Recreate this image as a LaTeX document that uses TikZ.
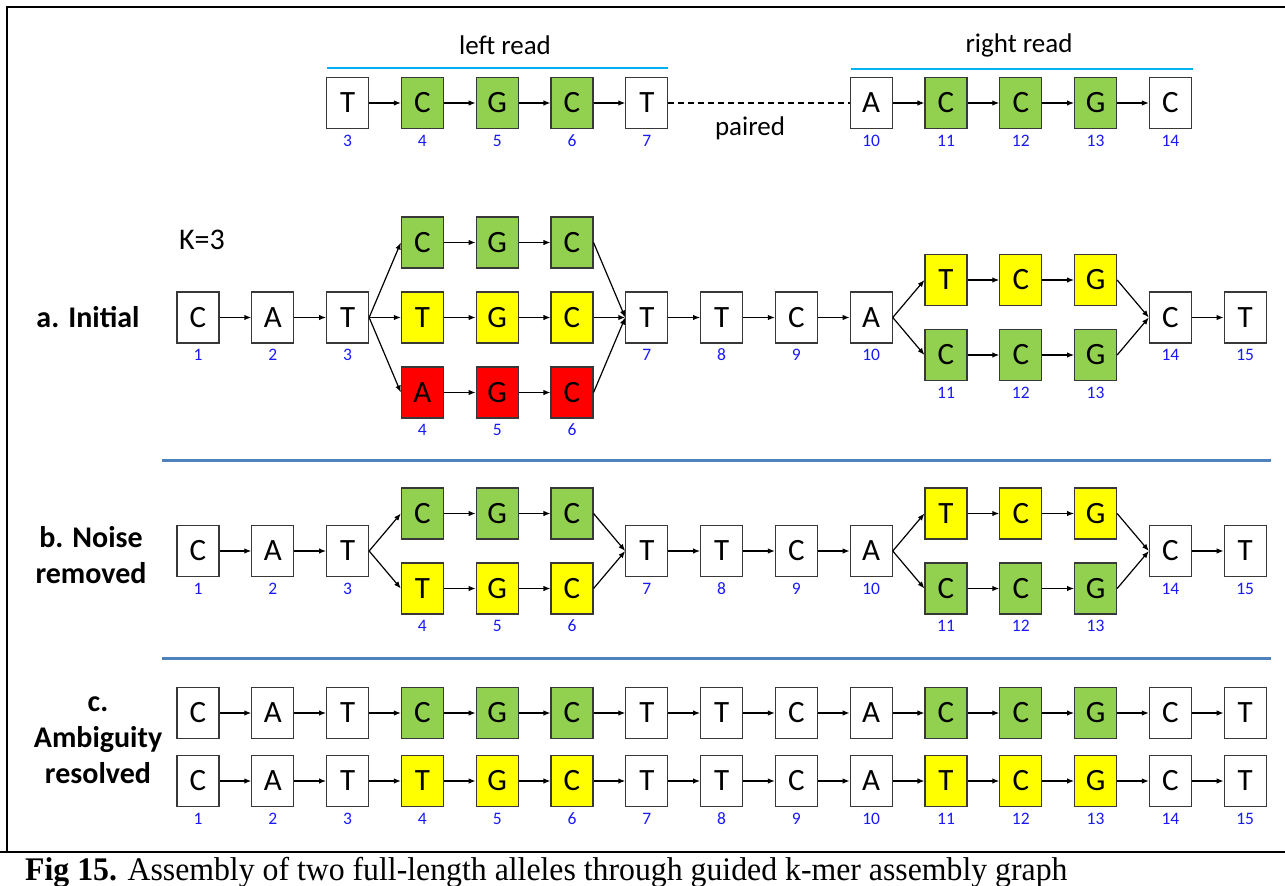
\documentclass[tikz,border=0pt]{standalone}
\usepackage{fontspec}
\setmainfont{Carlito}
\newfontfamily\capfont{Liberation Serif}
\usetikzlibrary{arrows.meta}

\definecolor{kgreen}{HTML}{92D050}
\definecolor{kyellow}{HTML}{FFFF00}
\definecolor{kred}{HTML}{FF0000}
\definecolor{sepblue}{HTML}{4F81BD}
\definecolor{readblue}{HTML}{00B0F0}
\definecolor{numblue}{RGB}{25,25,250}

\tikzset{
  kbox/.style={draw=black!78, line width=1.1pt, minimum width=42pt, minimum height=51pt,
    inner sep=0pt, fill=white, font=\fontsize{31}{32}\selectfont},
  wk/.style={kbox},
  gk/.style={kbox, fill=kgreen},
  yk/.style={kbox, fill=kyellow},
  rk/.style={kbox, fill=kred},
  num/.style={text=numblue, inner sep=0pt, font=\fontsize{17.5}{18}\selectfont},
  link/.style={line width=1.2pt, -{Latex[length=7pt,width=5.5pt]}},
  plain/.style={inner sep=0pt, font=\fontsize{27}{28}\selectfont},
  side/.style={inner sep=0pt, align=center, font=\bfseries\fontsize{30}{36}\selectfont},
  readline/.style={color=readblue, line width=2pt},
  sepline/.style={color=sepblue, line width=3pt},
}

% a row of k-mer boxes: name prefix, y position, list of index/letter/style
\newcommand\kmers[3]{%
  \foreach \k/\lt/\st in {#3}
    \node[\st] (#1\k) at ({198+(\k-1)*74.8},#2) {\lt};}
% position numbers under the boxes of a row
\newcommand\posnums[2]{%
  \foreach \k in {#2}
    \node[num] (#1\k-n) at ([yshift=-37.5pt]#1\k.center) {\k};}
% arrows between named boxes
\newcommand\links[1]{%
  \foreach \a/\b in {#1}
    \draw[link] (\a.east) -- (\b.west);}

\begin{document}
\begin{tikzpicture}[x=1pt,y=-1pt]
\useasboundingbox (0,0) rectangle (1285,886);
\clip (0,0) rectangle (1285,886);

% frame and caption rule
\draw[line width=2.6pt] (7,852) -- (7,7) -- (1285,7);
\draw[line width=1.1pt] (0,852) -- (1285,852);
\draw[line width=2.2pt] (0,852) -- (24,852);
\draw[line width=2.2pt] (1272,852) -- (1285,852);

% ---------- paired reads ----------
\kmers{R}{103}{3/T/wk,4/C/gk,5/G/gk,6/C/gk,7/T/wk,10/A/wk,11/C/gk,12/C/gk,13/G/gk,14/C/wk}
\posnums{R}{3,4,5,6,7,10,11,12,13,14}
\links{R3/R4,R4/R5,R5/R6,R6/R7,R10/R11,R11/R12,R12/R13,R13/R14}
\draw[line width=1.2pt, dash pattern=on 6pt off 4pt] (R7.east) -- (R10.west);
\node[plain] (paired) at (750,128) {paired};
\coordinate (lr1) at (327,68);
\coordinate (lr2) at (668,68);
\coordinate (rr1) at (851,69);
\coordinate (rr2) at (1193,69);
\draw[readline] (lr1) -- (lr2);
\draw[readline] (rr1) -- (rr2);
\node[plain] (leftread) at (505,45) {left read};
\node[plain] (rightread) at (1019,45) {right read};

% ---------- a. initial graph ----------
\node[plain, font=\fontsize{30}{30}\selectfont] (kval) at (202,240) {K=3};
\node[side] (labA) at (88,317) {a. Initial};
\kmers{A}{317.5}{1/C/wk,2/A/wk,3/T/wk,7/T/wk,8/T/wk,9/C/wk,10/A/wk,14/C/wk,15/T/wk}
\kmers{At}{242.5}{4/C/gk,5/G/gk,6/C/gk}
\kmers{Am}{317.5}{4/T/yk,5/G/yk,6/C/yk}
\kmers{Ab}{392.5}{4/A/rk,5/G/rk,6/C/rk}
\kmers{At}{280}{11/T/yk,12/C/yk,13/G/yk}
\kmers{Ab}{355}{11/C/gk,12/C/gk,13/G/gk}
\posnums{A}{1,2,3,7,8,9,10,14,15}
\posnums{Ab}{4,5,6,11,12,13}
\links{A1/A2,A2/A3,A3/At4,A3/Am4,A3/Ab4,At4/At5,At5/At6,Am4/Am5,Am5/Am6,Ab4/Ab5,Ab5/Ab6,
  At6/A7,Am6/A7,Ab6/A7,A7/A8,A8/A9,A9/A10,A10/At11,A10/Ab11,At11/At12,At12/At13,
  Ab11/Ab12,Ab12/Ab13,At13/A14,Ab13/A14,A14/A15}

\coordinate (s1a) at (162,460);
\coordinate (s1b) at (1271,460);
\draw[sepline] (s1a) -- (s1b);

% ---------- b. noise removed ----------
\node[side] (labB) at (91,555) {b. Noise\\removed};
\kmers{B}{551}{1/C/wk,2/A/wk,3/T/wk,7/T/wk,8/T/wk,9/C/wk,10/A/wk,14/C/wk,15/T/wk}
\kmers{Bt}{513.5}{4/C/gk,5/G/gk,6/C/gk,11/T/yk,12/C/yk,13/G/yk}
\kmers{Bb}{588.5}{4/T/yk,5/G/yk,6/C/yk,11/C/gk,12/C/gk,13/G/gk}
\posnums{B}{1,2,3,7,8,9,10,14,15}
\posnums{Bb}{4,5,6,11,12,13}
\links{B1/B2,B2/B3,B3/Bt4,B3/Bb4,Bt4/Bt5,Bt5/Bt6,Bb4/Bb5,Bb5/Bb6,Bt6/B7,Bb6/B7,
  B7/B8,B8/B9,B9/B10,B10/Bt11,B10/Bb11,Bt11/Bt12,Bt12/Bt13,Bb11/Bb12,Bb12/Bb13,
  Bt13/B14,Bb13/B14,B14/B15}

\coordinate (s2a) at (162,658.5);
\coordinate (s2b) at (1271,658.5);
\draw[sepline] (s2a) -- (s2b);

% ---------- c. ambiguity resolved ----------
\node[side] (labC) at (98,740) {c.\\Ambiguity\\resolved};
\kmers{Ct}{713}{1/C/wk,2/A/wk,3/T/wk,4/C/gk,5/G/gk,6/C/gk,7/T/wk,8/T/wk,9/C/wk,10/A/wk,
  11/C/gk,12/C/gk,13/G/gk,14/C/wk,15/T/wk}
\kmers{Cb}{781}{1/C/wk,2/A/wk,3/T/wk,4/T/yk,5/G/yk,6/C/yk,7/T/wk,8/T/wk,9/C/wk,10/A/wk,
  11/T/yk,12/C/yk,13/G/yk,14/C/wk,15/T/wk}
\posnums{Cb}{1,2,3,4,5,6,7,8,9,10,11,12,13,14,15}
\foreach \p in {Ct,Cb}{
  \foreach \k [evaluate=\k as \nk using int(\k+1)] in {1,...,14}
    \draw[link] (\p\k.east) -- (\p\nk.west);
}

% caption
\node[anchor=base west, inner sep=0pt, font=\capfont\fontsize{33}{33}\selectfont] (caption)
  at (25,880) {\scalebox{0.963}[1]{\textbf{Fig 15.} Assembly of two full-length alleles through guided k-mer assembly graph}};
\end{tikzpicture}
\end{document}
